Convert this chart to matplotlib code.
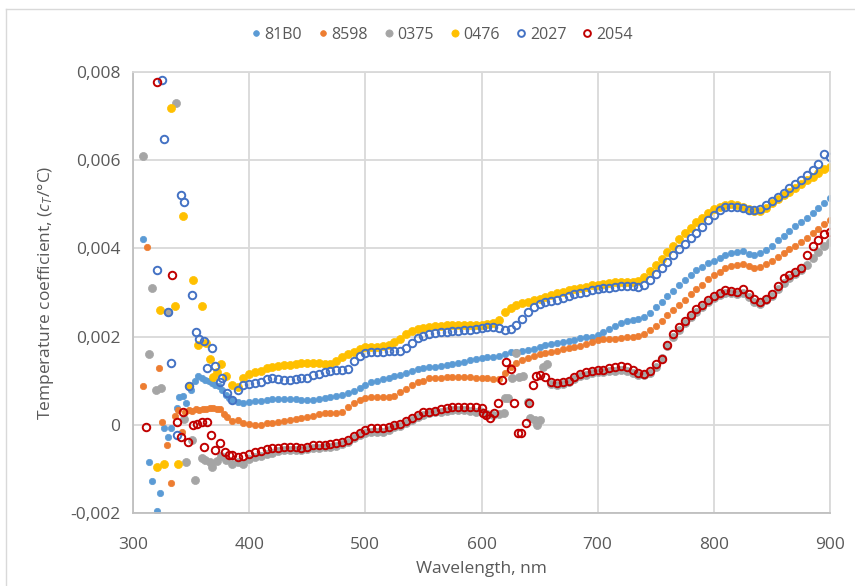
import numpy as np
import matplotlib
matplotlib.use("Agg")
import matplotlib.pyplot as plt
from matplotlib.lines import Line2D

plt.rcParams['font.family'] = ['Open Sans', 'DejaVu Sans']
plt.rcParams['mathtext.fontset'] = 'custom'
plt.rcParams['mathtext.it'] = 'Open Sans:italic'
plt.rcParams['mathtext.rm'] = 'Open Sans'

# ---------------- data ----------------
series_names = ["81B0", "8598", "0375", "0476", "2027", "2054"]

# regular wavelength grid (nm) for the smooth part of every curve
wl_grid = np.arange(385, 901, 5)

v_81B0 = [
    0.00057, 0.00052, 0.00050, 0.00052, 0.00053, 0.00055, 0.00057, 0.00058, 0.00059, 0.00059,
    0.00059, 0.00058, 0.00057, 0.00057, 0.00056, 0.00058, 0.00060, 0.00062, 0.00065, 0.00068,
    0.00071, 0.00076, 0.00083, 0.00090, 0.00096, 0.00100, 0.00104, 0.00107, 0.00110, 0.00113,
    0.00118, 0.00123, 0.00126, 0.00128, 0.00130, 0.00132, 0.00134, 0.00136, 0.00138, 0.00140,
    0.00142, 0.00146, 0.00150, 0.00152, 0.00153, 0.00154, 0.00156, 0.00160, 0.00164, 0.00166,
    0.00168, 0.00170, 0.00173, 0.00177, 0.00180, 0.00183, 0.00185, 0.00187, 0.00190, 0.00193,
    0.00196, 0.00198, 0.00200, 0.00203, 0.00210, 0.00217, 0.00224, 0.00230, 0.00235, 0.00238,
    0.00241, 0.00245, 0.00254, 0.00266, 0.00279, 0.00291, 0.00303, 0.00316, 0.00328, 0.00340,
    0.00350, 0.00358, 0.00366, 0.00372, 0.00379, 0.00385, 0.00390, 0.00392, 0.00393, 0.00388,
    0.00384, 0.00390, 0.00396, 0.00406, 0.00418, 0.00429, 0.00440, 0.00450, 0.00460, 0.00470,
    0.00480, 0.00492, 0.00503, 0.00514]

v_8598 = [
    0.00008, 0.00010, 0.00004, 0.00002, 0.00000, 0.00000, 0.00003, 0.00005, 0.00007, 0.00009,
    0.00011, 0.00013, 0.00016, 0.00018, 0.00020, 0.00024, 0.00027, 0.00027, 0.00026, 0.00028,
    0.00040, 0.00049, 0.00056, 0.00061, 0.00062, 0.00063, 0.00063, 0.00064, 0.00066, 0.00075,
    0.00082, 0.00090, 0.00096, 0.00100, 0.00105, 0.00106, 0.00107, 0.00108, 0.00109, 0.00109,
    0.00109, 0.00108, 0.00107, 0.00106, 0.00106, 0.00104, 0.00103, 0.00118, 0.00132, 0.00140,
    0.00147, 0.00152, 0.00157, 0.00160, 0.00163, 0.00165, 0.00168, 0.00171, 0.00174, 0.00177,
    0.00179, 0.00184, 0.00188, 0.00192, 0.00194, 0.00195, 0.00195, 0.00196, 0.00198, 0.00200,
    0.00202, 0.00205, 0.00214, 0.00224, 0.00236, 0.00248, 0.00260, 0.00272, 0.00283, 0.00296,
    0.00308, 0.00318, 0.00330, 0.00340, 0.00347, 0.00355, 0.00360, 0.00363, 0.00364, 0.00360,
    0.00356, 0.00358, 0.00364, 0.00372, 0.00380, 0.00389, 0.00398, 0.00406, 0.00415, 0.00424,
    0.00435, 0.00445, 0.00455, 0.00465]

v_0375 = [
    -0.00088, -0.00085, -0.00090, -0.00078, -0.00072, -0.00070, -0.00066, -0.00063, -0.00060, -0.00058,
    -0.00057, -0.00058, -0.00058, -0.00056, -0.00053, -0.00052, -0.00050, -0.00050, -0.00048, -0.00043,
    -0.00038, -0.00030, -0.00024, -0.00018, -0.00016, -0.00016, -0.00017, -0.00012, -0.00006, -0.00003,
    0.00003, 0.00010, 0.00017, 0.00023, 0.00026, 0.00028, 0.00030, 0.00032, 0.00033, 0.00033,
    0.00033, 0.00032, 0.00030, 0.00028, 0.00025, 0.00023, 0.00025, None, None, None,
    None, None, None, None, None, 0.00092, 0.00090, 0.00092, 0.00096, 0.00103,
    0.00110, 0.00114, 0.00117, 0.00119, 0.00120, 0.00122, 0.00123, 0.00124, 0.00122, 0.00118,
    0.00113, 0.00112, 0.00118, 0.00132, 0.00152, 0.00178, 0.00198, 0.00215, 0.00230, 0.00244,
    0.00256, 0.00268, 0.00278, 0.00287, 0.00294, 0.00298, 0.00298, 0.00296, 0.00298, 0.00290,
    0.00278, 0.00274, 0.00282, 0.00293, 0.00307, 0.00322, 0.00332, 0.00343, 0.00352, 0.00363,
    0.00378, 0.00392, 0.00405, 0.00415]

v_0476 = [
    0.00090, 0.00085, 0.00105, 0.00115, 0.00120, 0.00123, 0.00128, 0.00131, 0.00133, 0.00135,
    0.00136, 0.00138, 0.00140, 0.00140, 0.00140, 0.00140, 0.00138, 0.00137, 0.00145, 0.00154,
    0.00160, 0.00166, 0.00172, 0.00176, 0.00177, 0.00177, 0.00178, 0.00182, 0.00187, 0.00195,
    0.00205, 0.00213, 0.00218, 0.00220, 0.00222, 0.00224, 0.00225, 0.00226, 0.00226, 0.00226,
    0.00226, 0.00226, 0.00226, 0.00226, 0.00228, 0.00231, 0.00238, 0.00255, 0.00265, 0.00272,
    0.00276, 0.00279, 0.00282, 0.00285, 0.00289, 0.00294, 0.00298, 0.00302, 0.00305, 0.00308,
    0.00310, 0.00313, 0.00316, 0.00318, 0.00320, 0.00322, 0.00323, 0.00323, 0.00323, 0.00324,
    0.00326, 0.00335, 0.00348, 0.00362, 0.00377, 0.00392, 0.00406, 0.00421, 0.00434, 0.00447,
    0.00459, 0.00470, 0.00480, 0.00489, 0.00495, 0.00499, 0.00500, 0.00498, 0.00494, 0.00489,
    0.00484, 0.00485, 0.00492, 0.00503, 0.00512, 0.00521, 0.00529, 0.00537, 0.00546, 0.00554,
    0.00563, 0.00572, 0.00579, 0.00585]

v_2027 = [
    0.00057, 0.00080, 0.00090, 0.00092, 0.00095, 0.00098, 0.00103, 0.00106, 0.00104, 0.00102,
    0.00102, 0.00103, 0.00105, 0.00107, 0.00112, 0.00116, 0.00119, 0.00122, 0.00125, 0.00124,
    0.00126, 0.00145, 0.00155, 0.00162, 0.00164, 0.00165, 0.00166, 0.00168, 0.00167, 0.00168,
    0.00175, 0.00186, 0.00196, 0.00202, 0.00206, 0.00208, 0.00210, 0.00211, 0.00212, 0.00213,
    0.00215, 0.00216, 0.00218, 0.00220, 0.00221, 0.00221, 0.00219, 0.00216, 0.00218, 0.00226,
    0.00240, 0.00255, 0.00267, 0.00275, 0.00278, 0.00281, 0.00284, 0.00288, 0.00292, 0.00296,
    0.00299, 0.00302, 0.00306, 0.00309, 0.00310, 0.00311, 0.00313, 0.00314, 0.00315, 0.00315,
    0.00312, 0.00316, 0.00328, 0.00342, 0.00356, 0.00370, 0.00384, 0.00398, 0.00411, 0.00424,
    0.00436, 0.00448, 0.00465, 0.00476, 0.00486, 0.00493, 0.00494, 0.00493, 0.00491, 0.00488,
    0.00486, 0.00489, 0.00498, 0.00508, 0.00517, 0.00526, 0.00536, 0.00546, 0.00556, 0.00566,
    0.00577, 0.00592, 0.00615, 0.00608]

v_2054 = [
    -0.00068, -0.00072, -0.00070, -0.00066, -0.00062, -0.00060, -0.00056, -0.00053, -0.00052, -0.00050,
    -0.00050, -0.00051, -0.00052, -0.00050, -0.00046, -0.00046, -0.00045, -0.00044, -0.00042, -0.00040,
    -0.00034, -0.00026, -0.00018, -0.00011, -0.00008, -0.00007, -0.00007, -0.00005, -0.00001, 0.00002,
    0.00008, 0.00015, 0.00022, 0.00028, 0.00030, 0.00032, 0.00035, 0.00038, 0.00040, 0.00041,
    0.00041, 0.00041, 0.00041, 0.00038, None, None, None, None, None, None,
    None, None, None, 0.00112, 0.00108, 0.00098, 0.00095, 0.00096, 0.00100, 0.00108,
    0.00116, 0.00120, 0.00123, 0.00124, 0.00125, 0.00128, 0.00130, 0.00134, 0.00131, 0.00125,
    0.00117, 0.00116, 0.00122, 0.00137, 0.00150, 0.00180, 0.00207, 0.00222, 0.00236, 0.00249,
    0.00262, 0.00272, 0.00282, 0.00291, 0.00299, 0.00305, 0.00303, 0.00301, 0.00308, 0.00297,
    0.00286, 0.00279, 0.00285, 0.00296, 0.00315, 0.00332, 0.00340, 0.00346, 0.00355, 0.00385,
    0.00405, 0.00420, 0.00432, 0.00437]

# scattered (noisy) points, read individually
nwl_81B0 = [309, 313.5, 316, 320.5, 323, 326.5, 330, 333, 337.5, 340, 343, 346, 350, 353,
            356, 359, 362, 365, 368, 371, 374, 377, 380, 383]
nv_81B0 = [0.00421, -0.00084, -0.00127, -0.00195, -0.00154, -0.00007, -0.00027, -0.00007,
           0.00038, 0.00063, 0.00066, 0.00050, 0.00080, 0.00100, 0.00111, 0.00106, 0.00102,
           0.00099, 0.00095, 0.00091, 0.00088, 0.00080, 0.00068, 0.00060]

nwl_8598 = [309, 312, 322, 325, 329, 332.5, 336, 338.5, 342, 345, 348, 351, 354, 357, 360,
            363, 366, 369, 372, 375, 378, 381]
nv_8598 = [0.00088, 0.00403, 0.00129, 0.00007, -0.00045, -0.00131, 0.00020, 0.00034, -0.00016,
           0.00028, 0.00034, 0.00031, 0.00036, 0.00033, 0.00036, 0.00035, 0.00038, 0.00037,
           0.00036, 0.00035, 0.00025, 0.00018]

nwl_0375 = [309, 313.5, 316, 320, 324, 330, 336.8, 344, 346, 350.5, 353, 359, 362, 366, 368,
            372, 376, 380, 619, 620, 623, 626, 630, 632, 636, 640, 642, 646, 648, 650, 653, 656]
nv_0375 = [0.00609, 0.00161, 0.00310, 0.00079, 0.00084, 0.00256, 0.00730, 0.00014, -0.00084,
           -0.00034, -0.00125, -0.00075, -0.00080, -0.00084, -0.00095, -0.00082, -0.00070,
           -0.00080, 0.00027, 0.00060, 0.00061, 0.00106, 0.00163, 0.00108, 0.00111, 0.00052,
           0.00016, 0.00010, 0.00000, 0.00011, 0.00130, 0.00137]

nwl_0476 = [320.5, 323, 326.5, 333, 336, 339, 343, 348, 352, 356, 359, 363, 366, 368.5, 372,
            376, 380]
nv_0476 = [-0.00095, 0.00260, -0.00088, 0.00718, 0.00270, -0.00090, 0.00473, 0.00088, 0.00328,
           0.00181, 0.00270, 0.00186, 0.00150, 0.00109, 0.00120, 0.00138, 0.00110]

nwl_2027 = [320.5, 324.7, 327, 330.5, 333, 337.5, 341, 344, 348, 350.5, 354.5, 357, 361, 364,
            368, 371, 375, 377, 381]
nv_2027 = [0.00351, 0.00781, 0.00648, 0.00256, 0.00140, -0.00023, 0.00521, 0.00505, 0.00088,
           0.00294, 0.00211, 0.00195, 0.00190, 0.00129, 0.00174, 0.00134, 0.00097, 0.00106,
           0.00072]

nwl_2054 = [311, 320.5, 334, 337.5, 341, 343, 347, 351.5, 355, 359, 361, 364, 367, 371, 375,
            379, 383, 601, 604, 607, 611, 614, 618, 621, 625, 628, 631, 634, 638, 641, 644, 647]
nv_2054 = [-0.00004, 0.00777, 0.00340, 0.00007, -0.00027, 0.00030, -0.00038, 0.00000, 0.00002,
           0.00007, -0.00050, 0.00007, -0.00023, -0.00057, -0.00041, -0.00061, -0.00068,
           0.00027, 0.00022, 0.00016, 0.00027, 0.00050, 0.00102, 0.00143, 0.00127, 0.00050,
           -0.00018, -0.00018, 0.00005, 0.00050, 0.00090, 0.00111]

x_ticks = [300, 400, 500, 600, 700, 800, 900]
y_ticks = [-0.002, 0.0, 0.002, 0.004, 0.006, 0.008]
y_tick_labels = ["-0,002", "0", "0,002", "0,004", "0,006", "0,008"]

# ---------------- styles ----------------
styles = {
    "81B0": dict(color="#5B9BD5", filled=True, ms=4.6),
    "8598": dict(color="#ED7D31", filled=True, ms=4.6),
    "0375": dict(color="#A5A5A5", filled=True, ms=5.8),
    "0476": dict(color="#FFC000", filled=True, ms=5.8),
    "2027": dict(color="#4472C4", filled=False, ms=5.4),
    "2054": dict(color="#C00000", filled=False, ms=5.4),
}

grid_vals = {"81B0": v_81B0, "8598": v_8598, "0375": v_0375,
             "0476": v_0476, "2027": v_2027, "2054": v_2054}
noisy = {"81B0": (nwl_81B0, nv_81B0), "8598": (nwl_8598, nv_8598),
         "0375": (nwl_0375, nv_0375), "0476": (nwl_0476, nv_0476),
         "2027": (nwl_2027, nv_2027), "2054": (nwl_2054, nv_2054)}

fig = plt.figure(figsize=(8.55, 5.86), dpi=100)
ax = fig.add_axes([133 / 855, 1 - 513 / 586, (830 - 133) / 855, (513 - 72) / 586])

handles = []
for name in series_names:
    st = styles[name]
    yv = np.array(grid_vals[name], dtype=float)
    xs = np.concatenate([np.array(noisy[name][0], dtype=float), wl_grid])
    ys = np.concatenate([np.array(noisy[name][1], dtype=float), yv])
    if st["filled"]:
        kw = dict(marker="o", linestyle="none", ms=st["ms"], mfc=st["color"],
                  mec=st["color"], mew=0.5)
    else:
        kw = dict(marker="o", linestyle="none", ms=st["ms"], mfc="none",
                  mec=st["color"], mew=1.4)
    h, = ax.plot(xs, ys, label=name, **kw)
    handles.append(h)

ax.set_xlim(300, 900)
ax.set_ylim(-0.002, 0.008)
ax.set_xticks(x_ticks)
ax.set_xticklabels([str(t) for t in x_ticks])
ax.set_yticks(y_ticks)
ax.set_yticklabels(y_tick_labels)
ax.tick_params(length=0, labelsize=12.5, labelcolor="#595959")
ax.tick_params(axis="x", pad=17)
ax.tick_params(axis="y", pad=9)
ax.grid(True, color="#D9D9D9", linewidth=1.3)
ax.set_axisbelow(True)
for sp in ax.spines.values():
    sp.set_color("#D9D9D9")
    sp.set_linewidth(1.3)
ax.spines["left"].set_color("#BFBFBF")
ax.spines["bottom"].set_color("#BFBFBF")

ax.set_xlabel("Wavelength, nm", fontsize=12.5, color="#595959", labelpad=6)
ax.set_ylabel(r"Temperature coefficient, ($c_T$/°C)", fontsize=12.5, color="#595959",
              labelpad=10)

leg = fig.legend(handles=handles, loc="center", bbox_to_anchor=(440 / 855, 1 - 35 / 586),
                 ncol=6, frameon=False, fontsize=11.5, handletextpad=0.05,
                 columnspacing=0.8, handlelength=1.0, markerscale=0.9)
for t in leg.get_texts():
    t.set_color("#595959")

# chart border
fig.add_artist(Line2D([6 / 855, 6 / 855], [0, 1 - 9 / 586], transform=fig.transFigure,
                      color="#D9D9D9", linewidth=1))
fig.add_artist(Line2D([6 / 855, 1], [1 - 9 / 586, 1 - 9 / 586], transform=fig.transFigure,
                      color="#D9D9D9", linewidth=1))

fig.savefig("out.png", dpi=100)
